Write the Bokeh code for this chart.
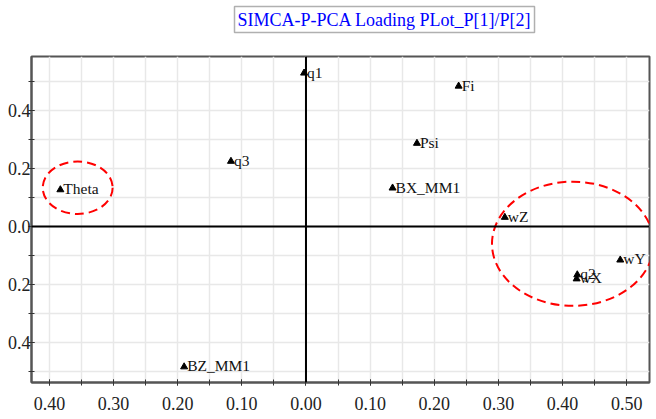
from bokeh.plotting import figure
from bokeh.models import Range1d, FixedTicker, Span, Label, ColumnDataSource
from bokeh.core.properties import value
from bokeh.embed import file_html
from bokeh.resources import INLINE

# Loadings P[1] / P[2]
names = ["q1", "Fi", "Psi", "BX_MM1", "q3", "Theta", "BZ_MM1", "wZ", "wY", "q2", "wX"]
p1 = [-0.003, 0.238, 0.173, 0.135, -0.117, -0.383, -0.190, 0.310, 0.490, 0.423, 0.422]
p2 = [0.529, 0.484, 0.287, 0.133, 0.225, 0.127, -0.483, 0.032, -0.115, -0.166, -0.180]

# highlighted groups (dashed ellipses)
ell_x = [-0.356, 0.416]
ell_y = [0.134, -0.059]
ell_w = [0.109, 0.252]
ell_h = [0.181, 0.428]

x_ticks = [-0.4, -0.3, -0.2, -0.1, 0.0, 0.1, 0.2, 0.3, 0.4, 0.5]
x_tick_labels = ["0.40", "0.30", "0.20", "0.10", "0.00", "0.10", "0.20", "0.30", "0.40", "0.50"]
x_minor = [-0.45, -0.4, -0.35, -0.3, -0.25, -0.2, -0.15, -0.1, -0.05, 0.0,
           0.05, 0.1, 0.15, 0.2, 0.25, 0.3, 0.35, 0.4, 0.45, 0.5, 0.55]
y_ticks = [-0.4, -0.2, 0.0, 0.2, 0.4]
y_tick_labels = ["0.4", "0.2", "0.0", "0.2", "0.4"]
y_minor = [-0.5, -0.4, -0.3, -0.2, -0.1, 0.0, 0.1, 0.2, 0.3, 0.4, 0.5]

title_text = "SIMCA-P-PCA Loading PLot_P[1]/P[2]"

SERIF = "Liberation Serif"

p = figure(width=656, height=419, output_backend="svg", toolbar_location=None,
           x_range=Range1d(-0.428, 0.5356), y_range=Range1d(-0.537, 0.586),
           min_border_left=31, min_border_right=7, min_border_top=56, min_border_bottom=37)

p.add_layout(Label(x=203, y=24, x_units="screen", y_units="screen", text=title_text,
                   text_font=SERIF, text_font_size="18px", text_color="#0000ff",
                   background_fill_color="white", border_line_color="#b0b0b0",
                   border_line_width=1.5, padding=3, text_baseline="bottom"), "above")

p.outline_line_color = "#555555"
p.outline_line_width = 2

p.xaxis.ticker = FixedTicker(ticks=x_ticks, minor_ticks=x_minor)
p.yaxis.ticker = FixedTicker(ticks=y_ticks, minor_ticks=y_minor)
p.xaxis.major_label_overrides = dict(zip(x_ticks, x_tick_labels))
p.yaxis.major_label_overrides = dict(zip(y_ticks, y_tick_labels))

for ax in (p.xaxis[0], p.yaxis[0]):
    ax.axis_line_color = "#555555"
    ax.axis_line_width = 2
    ax.major_tick_line_color = "#333333"
    ax.minor_tick_line_color = "#333333"
    ax.major_tick_in = 3
    ax.major_tick_out = 3
    ax.minor_tick_in = 3
    ax.minor_tick_out = 3
    ax.major_label_text_font = SERIF
    ax.major_label_text_font_size = "18px"
    ax.major_label_text_color = "#222222"

p.xaxis.major_label_standoff = 11
p.yaxis.major_label_standoff = -2

p.xgrid.ticker = FixedTicker(ticks=x_minor)
p.ygrid.ticker = FixedTicker(ticks=y_minor)
p.xgrid.grid_line_color = "#e8e8e8"
p.ygrid.grid_line_color = "#e8e8e8"
p.xgrid.grid_line_width = 1.5
p.ygrid.grid_line_width = 1.5

p.add_layout(Span(location=0, dimension="height", line_color="black", line_width=2))
p.add_layout(Span(location=0, dimension="width", line_color="black", line_width=2))

src = ColumnDataSource(dict(x=p1, y=p2, name=names))
p.scatter("x", "y", source=src, marker="triangle", size=7, color="black")
p.text("x", "y", text="name", source=src, x_offset=3, y_offset=-1,
       text_font=value(SERIF), text_font_size="15.5px", text_baseline="middle",
       text_color="#111111")

p.ellipse(x=ell_x, y=ell_y, width=ell_w, height=ell_h, fill_color=None,
          line_color="#ff0000", line_width=2, line_dash="9 5")

open("out.html", "w").write(file_html(p, INLINE))
